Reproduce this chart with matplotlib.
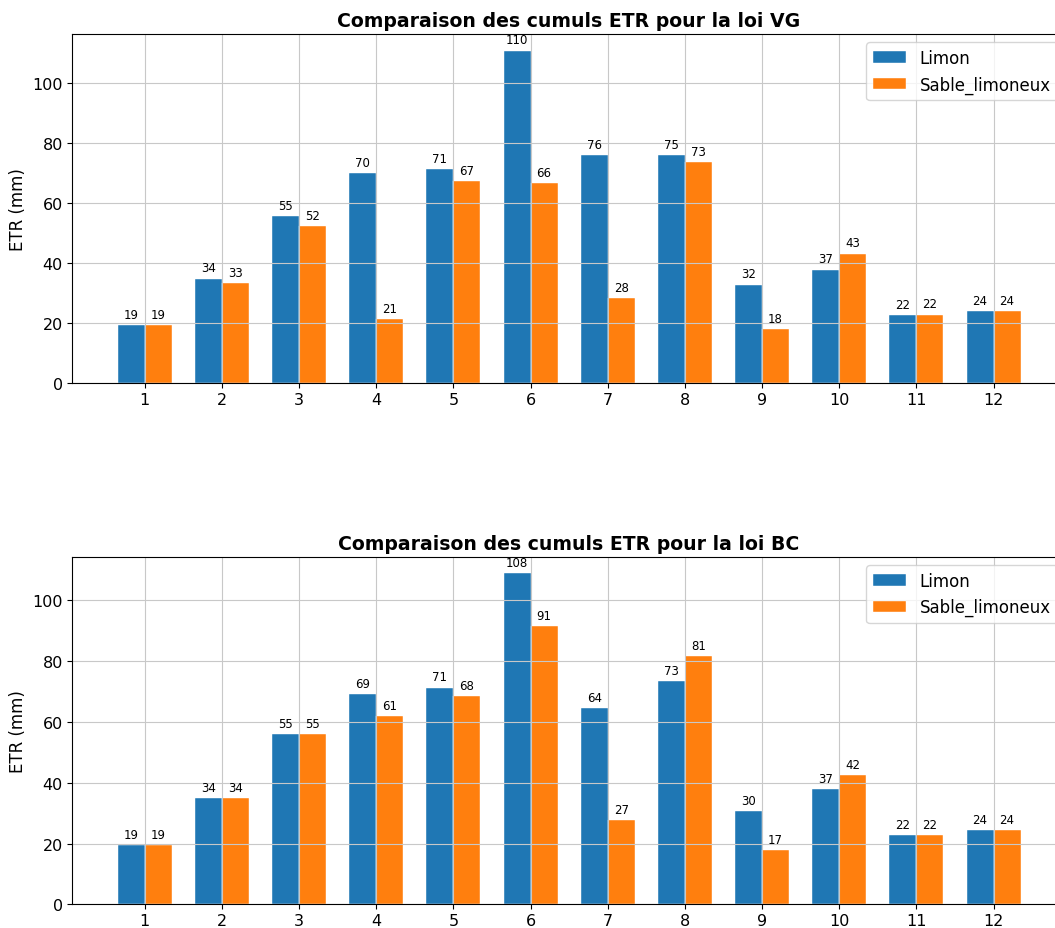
import numpy as np
import matplotlib.pyplot as plt

# ----------------- Donnees -----------------
# cumuls mensuels d'ETR (mm) pour les deux sols
mois = np.arange(1, 13)

etr_vg_limon = [19.5, 34.9, 55.8, 70.1, 71.3, 110.8, 76.0, 75.9, 32.9, 37.9, 22.6, 24.2]
etr_vg_sable = [19.5, 33.4, 52.3, 21.4, 67.3, 66.6, 28.5, 73.6, 18.2, 43.2, 22.9, 24.2]

etr_bc_limon = [19.6, 34.9, 55.9, 69.3, 71.3, 108.9, 64.6, 73.6, 30.7, 37.9, 22.9, 24.5]
etr_bc_sable = [19.6, 34.9, 55.9, 61.9, 68.4, 91.5, 27.6, 81.7, 17.9, 42.4, 22.9, 24.5]

width = 0.35


def add_labels(ax, bars):
    # affiche la valeur entiere au dessus de chaque barre
    for b in bars:
        h = b.get_height()
        ax.annotate('%d' % h, xy=(b.get_x() + b.get_width() / 2, h),
                    xytext=(0, 3), textcoords="offset points",
                    ha='center', va='bottom', fontsize=8.5)


def plot_etr(ax, limon, sable, loi):
    b1 = ax.bar(mois - width / 2, limon, width, label='Limon',
                color='#1f77b4', edgecolor='white', linewidth=0.3)
    b2 = ax.bar(mois + width / 2, sable, width, label='Sable_limoneux',
                color='#ff7f0e', edgecolor='white', linewidth=0.3)
    add_labels(ax, b1)
    add_labels(ax, b2)
    ax.set_title("Comparaison des cumuls ETR pour la loi " + loi,
                 fontsize=13.6, fontweight='bold')
    ax.set_ylabel("ETR (mm)", fontsize=12)
    ax.set_xticks(mois)
    ax.tick_params(labelsize=11.5)
    ax.tick_params(axis='x', pad=2.5)
    ax.legend(loc='upper right', fontsize=12)
    ax.grid(color='#c8c8c8')


fig = plt.figure(figsize=(10.55, 9.29), dpi=100)
ax1 = fig.add_axes([0.0687, 0.5863, 0.9415, 0.376])
ax2 = fig.add_axes([0.0687, 0.0255, 0.9415, 0.374])

plot_etr(ax1, etr_vg_limon, etr_vg_sable, "VG")
plot_etr(ax2, etr_bc_limon, etr_bc_sable, "BC")

fig.savefig("out.png", dpi=100)
